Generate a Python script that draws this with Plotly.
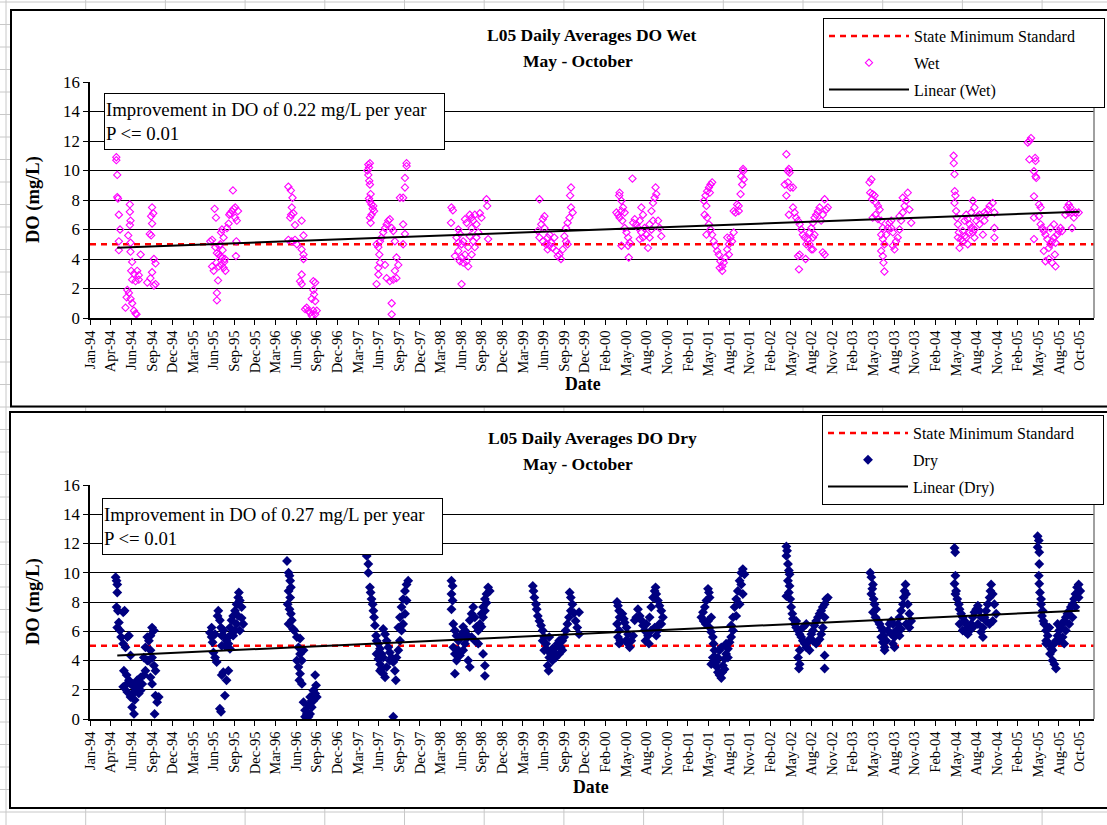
import pandas as pd
import plotly.graph_objects as go

FONT = "Liberation Serif"
W, H = 1107, 825

# ---------------- data (day-of-year, DO mg/L) ----------------
years = [1994, 1995, 1996, 1997, 1998, 1999, 2000, 2001, 2002, 2003, 2004, 2005]

wet_1994 = [(116,10.9),(116,10.7),(120,9.7),(120,8.2),(123,8.1),(127,7.0),(132,6.0),(127,5.2),(127,4.6),
            (175,7.7),(175,7.2),(178,6.6),(175,6.3),(168,5.6),(178,5.1),(178,4.5),(185,3.8),(181,3.2),(193,3.0),
            (185,2.6),(207,3.2),(214,2.9),(214,2.6),(200,2.5),(164,1.9),(171,1.7),(161,1.4),(156,0.7),(178,1.3),
            (185,1.0),(193,0.5),(200,0.3),(204,0.25),(222,4.3),
            (272,7.5),(277,7.1),(268,6.9),(272,6.4),(262,5.7),(268,5.6),(280,4.0),(287,3.7),(272,3.1),(265,2.7),
            (251,2.4),(287,2.3),(280,2.2)]
wet_1995 = [(180,7.4),(186,6.8),(169,5.3),(161,5.2),(183,4.8),(190,4.4),(198,4.3),(205,4.2),(188,3.75),(198,3.5),
            (212,4.1),(219,3.4),(227,3.2),(169,3.5),(176,3.2),(195,2.55),(190,1.7),(190,1.2),(208,5.8),(212,6.0),
            (219,5.45),(234,6.1),(241,6.4),(244,7.0),(248,7.1),(256,7.25),(263,7.4),(270,7.5),(260,8.65),(275,5.2),
            (273,4.2),(282,7.25),(270,6.8),(277,6.6),(200,4.9),(205,5.0),(215,4.6),(222,3.8),(225,4.0),(210,3.6)]
wet_1996 = [(137,8.9),(148,8.65),(155,8.15),(152,7.5),(149,7.0),(159,7.1),(145,6.8),(166,6.3),(195,6.6),(203,5.6),
            (137,5.3),(152,5.2),(166,5.3),(174,5.0),(195,4.65),(203,4.3),(203,4.0),(195,2.95),(188,2.5),(195,2.3),
            (246,2.5),(254,2.4),(246,1.9),(249,1.6),(239,1.3),(254,1.15),(217,0.7),(224,0.5),(232,0.35),(246,0.5),
            (261,0.5),(254,0.25),(239,0.15),(210,0.6)]
wet_1997 = [(120,10.4),(127,10.5),(123,10.2),(116,10.0),(120,9.7),(124,9.3),(127,9.05),(130,8.4),(123,8.1),(127,7.9),
            (134,7.7),(142,7.6),(139,7.4),(145,7.25),(134,7.0),(127,6.8),(130,6.45),
            (156,5.0),(164,4.8),(171,5.2),(178,5.45),(185,5.8),(193,6.1),(200,6.35),(207,6.6),(214,6.7),(222,6.1),
            (229,5.9),(236,5.2),(243,4.1),(251,3.6),(236,3.2),(243,2.7),(229,2.6),(168,4.3),(171,3.75),(164,3.4),
            (164,2.95),(156,2.3),(193,3.6),(200,2.7),(214,2.5),(222,1.0),(222,0.25),(258,8.15),(272,8.15),(280,8.85),
            (280,9.5),(287,10.3),(287,10.5),(272,6.35),(280,5.7),(272,5.0)]
wet_1998 = [(118,7.5),(124,7.3),(116,6.45),(148,6.0),(155,5.7),(140,5.45),(148,5.1),(162,5.0),(169,5.2),(133,4.2),
            (148,4.55),(155,3.85),(169,3.75),(162,4.1),(177,4.3),(184,3.85),(191,3.5),(162,2.3),(177,6.7),(184,6.45),
            (198,7.0),(206,6.8),(213,6.6),(220,7.0),(227,6.35),(206,6.1),(198,5.55),(213,5.2),(220,4.8),(227,5.45),
            (235,5.8),(206,4.3),(191,4.8),(271,8.05),(274,7.6),(278,5.35),(242,7.1),(249,6.8)]
wet_1999 = [(137,8.05),(159,6.9),(152,6.7),(145,6.35),(159,6.1),(130,5.9),(137,5.45),(152,5.2),(166,5.0),(181,4.9),
            (173,4.65),(195,4.75),(210,4.55),(224,4.3),(231,4.0),(217,4.2),(188,5.1),(202,5.45),(181,5.65),(173,5.45),
            (239,4.65),(246,5.55),(253,6.1),(260,6.45),(268,6.8),(275,7.5),(271,8.3),(275,8.85),(282,7.15),(253,5.2),
            (260,5.0)]
wet_2000 = [(122,8.5),(120,8.3),(130,7.95),(108,7.15),(115,7.0),(122,6.8),(130,7.25),(137,7.5),(144,7.15),(134,6.6),
            (144,6.1),(152,5.8),(159,5.45),(166,5.1),(159,4.9),(130,4.9),(162,4.1),(178,9.45),(181,6.45),(188,6.7),
            (195,6.35),(203,6.1),(210,6.6),(217,7.5),(224,7.0),(217,5.8),(210,5.35),(231,6.1),(239,5.65),(246,4.75),
            (253,5.45),(261,7.25),(268,7.8),(275,8.15),(279,8.85),(282,8.4),(290,6.6),(297,6.1),(304,5.55),(261,6.0),
            (268,6.6),(253,6.35),(224,5.45)]
wet_2001 = [(124,7.95),(131,8.3),(138,8.6),(146,8.85),(153,9.05),(160,9.2),(150,8.5),(135,7.6),(127,7.0),(138,6.8),
            (146,6.35),(153,6.0),(160,5.65),(167,5.2),(175,4.9),(182,4.55),(189,4.3),(196,3.85),(204,3.5),(211,3.75),
            (218,4.1),(226,4.65),(233,5.0),(240,5.45),(247,5.2),(254,5.8),(204,3.2),(193,3.4),(135,5.65),(262,7.15),
            (269,7.7),(276,7.6),(284,8.4),(291,9.05),(298,9.4),(295,9.95),(287,9.6),(295,10.1),(276,7.25),(254,7.25),
            (226,5.45),(233,4.3)]
wet_2002 = [(119,11.1),(126,9.95),(130,10.1),(133,9.85),(112,9.05),(126,9.2),(136,8.85),(119,8.3),(148,8.85),(130,7.0),
            (148,7.5),(155,7.15),(162,6.8),(170,6.6),(177,6.35),(184,6.0),(191,5.65),(199,5.45),(206,5.0),(213,5.35),
            (220,5.8),(228,6.1),(235,6.45),(242,6.8),(249,7.0),(257,7.25),(264,7.5),(286,8.05),(293,7.35),(300,7.5),
            (278,7.0),(271,6.6),(177,4.3),(170,4.2),(174,3.3),(203,4.0),(220,5.0),(228,4.65),(235,5.45),(242,5.65),
            (278,4.45),(286,4.3),(235,4.65)]
wet_2003 = [(125,9.4),(117,9.2),(120,8.5),(131,8.4),(139,8.3),(128,8.05),(146,7.8),(154,7.6),(161,7.35),(143,7.0),
            (131,6.8),(154,6.7),(168,6.6),(175,6.1),(168,5.65),(175,5.35),(182,5.0),(168,4.55),(175,4.2),(178,3.75),
            (182,3.15),(190,5.65),(197,6.1),(204,6.45),(212,6.1),(219,5.8),(219,4.9),(226,4.65),(233,5.2),(240,5.45),
            (248,6.0),(255,6.6),(262,7.15),(270,7.6),(277,7.95),(284,8.5),(291,7.35),(299,6.45),(262,8.15),(248,6.9),
            (212,6.6)]
wet_2004 = [(119,11.0),(120,10.5),(123,9.75),(124,8.6),(127,8.3),(123,7.8),(130,7.25),(133,6.8),(138,6.35),(142,5.8),
            (138,5.45),(145,4.75),(152,5.35),(159,5.9),(167,6.6),(174,7.0),(181,6.7),(189,6.35),(196,6.1),(203,5.8),
            (210,6.0),(218,6.6),(210,7.5),(203,7.95),(196,7.15),(225,6.9),(232,7.0),(247,5.65),(254,6.6),(261,7.0),
            (269,7.35),(276,7.6),(290,7.8),(297,7.15),(297,6.1),(297,5.45),(159,5.2),(174,5.45),(181,5.0),(167,5.55),
            (189,5.8),(210,5.45),(232,6.35),(254,7.15)]
wet_2005 = [(77,11.9),(91,12.2),(84,12.0),(84,10.75),(109,10.85),(111,10.65),(104,9.95),(111,9.6),(114,9.5),(104,8.25),
            (126,7.7),(133,7.5),(126,6.9),(104,6.8),(133,6.35),(140,6.1),(104,5.35),(147,5.9),(154,5.65),(162,5.35),
            (147,4.55),(154,3.85),(169,4.0),(169,4.75),(176,5.0),(183,5.2),(191,5.45),(198,5.1),(195,4.3),(198,3.5),
            (183,3.75),(205,5.65),(212,5.9),(220,6.1),(227,5.9),(191,6.35),(176,6.1),(241,7.0),(249,7.5),(256,7.7),
            (263,7.5),(270,7.15),(278,6.8),(270,6.1),(285,7.15),(299,7.15),(256,7.15)]

dry_1994 = [(113,9.7),(117,9.45),(120,9.2),(120,8.65),(117,7.65),(123,7.4),(146,7.3),(152,7.4),(120,6.25),(127,6.6),
            (132,6.05),(137,5.6),(146,5.15),(156,4.9),(164,5.6),(171,5.7),(178,4.35),(149,3.3),(161,3.0),(171,2.65),
            (178,2.4),(156,2.3),(146,2.2),(185,2.4),(193,2.2),(200,1.95),(207,2.65),(214,2.3),(222,2.85),(229,2.4),
            (190,1.75),(196,1.3),(185,0.8),(193,0.35),(178,1.5),(164,1.85),(214,1.75),(222,1.95),(236,3.0),(243,3.3),
            (251,4.0),(243,4.9),(251,5.6),(258,5.35),(265,5.7),(272,6.25),(280,6.05),(265,4.7),(272,4.2),(280,3.65),
            (287,3.3),(265,2.85),(272,2.4),(287,1.6),(294,1.15),(283,0.35),(301,1.5),(258,4.0),(236,4.2)]
dry_1995 = [(160,5.9),(167,5.6),(171,5.25),(175,4.55),(182,4.2),(189,3.9),(193,7.05),(196,7.4),(203,6.75),(208,6.25),
            (211,5.7),(218,6.05),(225,5.6),(232,5.35),(240,5.15),(247,4.8),(211,5.0),(225,5.0),(218,3.2),(211,3.0),
            (232,2.65),(240,3.3),(225,1.6),(203,0.7),(208,0.5),(240,5.6),(247,6.25),(254,6.75),(261,7.05),(269,7.4),
            (276,7.85),(283,8.3),(286,8.65),(290,8.1),(298,7.65),(283,7.05),(276,6.5),(269,6.05),(261,5.7),(298,6.9),
            (305,6.5),(290,6.05),(254,5.8),(182,5.8),(167,6.25)]
dry_1996 = [(131,10.8),(138,10.0),(142,9.8),(145,9.45),(148,9.0),(138,8.75),(145,8.3),(134,7.85),(142,7.5),(148,7.2),
            (152,6.75),(138,6.5),(157,6.15),(163,6.05),(174,5.6),(188,5.5),(181,4.9),(188,4.45),(196,4.0),(181,3.55),
            (188,3.1),(185,2.65),(196,2.4),(174,4.0),(203,4.7),(210,0.6),(217,0.35),(225,0.15),(232,0.35),(239,0.8),
            (246,1.25),(254,1.75),(258,2.3),(254,3.0),(239,1.25),(225,0.95),(232,1.5),(246,1.95),(261,1.5),(210,0.15),
            (203,1.15)]
dry_1997 = [(113,11.15),(120,10.6),(120,10.0),(127,9.0),(130,8.65),(134,8.2),(139,7.85),(142,7.4),(145,6.95),(149,6.4),
            (154,5.7),(156,5.35),(164,5.15),(171,4.8),(156,4.45),(164,4.1),(171,3.75),(178,3.45),(185,3.1),(193,2.85),
            (178,4.45),(185,6.15),(193,5.8),(200,5.35),(207,4.9),(214,4.55),(222,4.2),(229,3.9),(236,3.3),(240,2.65),
            (229,0.15),(243,4.2),(251,4.7),(258,5.35),(251,6.25),(258,6.95),(265,7.65),(272,8.2),(280,8.75),(287,9.2),
            (294,9.45),(280,7.2),(272,6.5),(287,8.1),(265,6.05),(185,4.2),(214,4.0),(200,3.55),(171,3.3)]
dry_1998 = [(118,9.45),(123,9.1),(118,8.55),(123,8.1),(118,7.5),(126,6.5),(133,6.05),(140,5.7),(148,5.35),(155,5.6),
            (162,5.8),(126,4.9),(133,4.45),(140,4.0),(133,3.1),(148,4.7),(155,4.35),(169,4.7),(177,5.15),(184,5.5),
            (191,4.0),(198,3.55),(169,6.3),(177,6.05),(184,5.8),(198,6.75),(206,7.2),(213,7.65),(220,6.95),(227,6.3),
            (235,6.05),(242,6.5),(249,7.2),(256,7.65),(264,8.2),(271,8.55),(278,9.0),(285,8.75),(271,7.95),(264,7.4),
            (256,6.95),(249,6.3),(256,4.45),(264,3.65),(264,2.95),(235,5.15),(220,5.35),(206,5.6)]
dry_1999 = [(108,9.1),(111,8.75),(115,8.3),(122,7.85),(125,7.5),(130,7.05),(137,6.7),(144,6.4),(151,6.05),(158,5.6),
            (166,5.15),(173,4.7),(180,4.2),(173,3.65),(177,3.3),(187,4.45),(194,4.8),(201,4.55),(208,4.9),(216,5.15),
            (223,5.35),(230,4.9),(237,5.35),(245,5.6),(252,6.05),(259,6.5),(266,6.95),(274,7.4),(281,7.85),(274,8.3),
            (269,8.65),(288,7.25),(295,6.7),(302,6.25),(310,5.8),(208,4.2),(194,4.0),(223,4.45),(237,4.7),(158,4.7),
            (151,5.35),(180,5.6),(310,7.3)]
dry_2000 = [(111,8.0),(115,7.75),(120,7.4),(122,6.95),(111,6.5),(120,6.05),(115,5.6),(120,5.15),(125,5.35),(134,7.2),
            (140,6.85),(144,6.6),(152,6.25),(159,5.8),(164,5.25),(166,4.9),(159,5.15),(173,5.35),(181,5.7),(188,6.75),
            (195,6.95),(202,7.5),(210,7.05),(217,6.75),(224,6.4),(231,6.05),(239,6.5),(246,5.7),(250,5.15),(253,6.95),
            (260,7.65),(268,8.3),(275,8.75),(279,9.0),(282,8.55),(289,8.1),(296,7.75),(304,7.4),(311,6.95),(304,6.5),
            (289,6.05),(275,6.25),(260,6.05),(282,5.7),(296,6.5),(235,5.35),(149,5.35)]
dry_2001 = [(142,8.9),(146,8.65),(149,8.3),(135,8.1),(128,7.65),(120,7.3),(113,6.95),(123,6.7),(132,6.5),(142,6.7),
            (156,6.95),(149,6.25),(156,5.95),(163,5.6),(166,5.15),(170,4.7),(175,4.2),(178,3.9),(181,3.55),(185,3.2),
            (192,3.0),(200,2.8),(204,3.2),(207,3.65),(214,4.1),(221,4.45),(229,4.8),(236,5.25),(243,5.6),(163,4.2),
            (156,3.75),(185,4.2),(192,4.7),(200,4.9),(221,5.15),(243,6.4),(251,6.95),(258,7.65),(265,8.2),(272,8.75),
            (280,9.45),(287,10.0),(294,10.25),(301,9.9),(287,9.2),(294,8.55),(280,7.85),(265,7.05),(251,6.05),(229,4.2),
            (214,3.4)]
dry_2002 = [(119,11.8),(122,11.5),(119,11.15),(126,10.6),(130,10.15),(133,9.9),(126,9.45),(133,9.1),(130,8.65),(119,8.4),
            (136,8.2),(140,7.65),(145,7.2),(148,6.85),(155,6.5),(162,6.25),(170,6.05),(177,5.8),(184,5.6),(191,5.35),
            (199,5.15),(206,4.9),(177,4.7),(170,4.2),(177,3.75),(174,3.45),(213,5.25),(220,5.45),(228,5.8),(235,6.05),
            (242,6.4),(249,6.7),(257,6.95),(264,7.2),(271,7.4),(278,7.65),(286,7.85),(293,8.2),(300,8.3),(286,6.95),
            (278,6.25),(271,5.8),(264,5.45),(249,5.15),(235,5.35),(220,4.7),(286,4.35),(286,3.45),(191,6.25),(206,6.5),
            (162,6.7)]
dry_2003 = [(120,10.0),(125,9.7),(132,9.2),(129,8.9),(125,8.55),(135,8.2),(139,7.85),(146,7.5),(132,7.3),(143,6.95),
            (154,6.7),(161,6.5),(168,6.25),(175,6.05),(168,5.6),(175,5.25),(183,4.9),(183,4.7),(178,5.7),(190,5.35),
            (197,6.05),(204,6.5),(212,6.7),(219,6.5),(226,5.6),(226,4.9),(219,5.15),(233,6.05),(241,6.5),(248,6.95),
            (255,7.4),(263,7.85),(266,8.3),(270,8.75),(274,9.2),(277,8.55),(284,7.85),(291,7.2),(299,6.7),(291,6.25),
            (277,6.5),(255,6.15),(248,5.7),(212,5.8)]
dry_2004 = [(123,11.7),(126,11.4),(127,9.8),(123,9.25),(130,8.75),(127,8.55),(135,8.2),(142,7.85),(145,7.5),(152,7.2),
            (159,6.95),(167,6.7),(174,6.5),(181,6.25),(189,6.05),(181,5.8),(196,6.5),(203,6.95),(210,7.3),(218,7.5),
            (225,7.75),(232,7.4),(239,6.95),(247,6.25),(247,5.6),(239,5.95),(254,6.95),(261,7.4),(268,7.85),(276,8.3),
            (280,8.75),(283,9.2),(290,8.55),(297,7.85),(305,7.2),(290,6.7),(276,6.5),(261,6.7),(145,6.5),(159,6.05),
            (174,5.95),(203,6.25),(225,6.5)]
dry_2005 = [(120,12.5),(125,12.2),(120,11.75),(127,11.4),(127,10.6),(125,9.8),(127,9.25),(130,8.65),(135,8.2),(135,7.85),
            (142,7.4),(139,7.05),(145,6.7),(149,6.5),(157,6.05),(164,5.7),(157,5.35),(171,5.15),(178,4.8),(174,4.45),
            (185,4.0),(200,3.45),(193,3.75),(185,4.7),(193,5.15),(200,5.35),(207,5.7),(214,6.05),(221,6.25),(229,6.5),
            (236,6.7),(243,6.95),(250,7.2),(258,7.4),(265,7.65),(272,7.85),(279,8.2),(285,8.55),(292,9.0),(299,9.2),
            (306,8.75),(299,8.3),(285,7.65),(272,6.95),(258,6.5),(243,6.05),(229,5.6),(214,5.35),(236,5.15),(157,5.15),
            (171,6.25),(207,6.5)]

wet_seasons = [wet_1994, wet_1995, wet_1996, wet_1997, wet_1998, wet_1999,
               wet_2000, wet_2001, wet_2002, wet_2003, wet_2004, wet_2005]
dry_seasons = [dry_1994, dry_1995, dry_1996, dry_1997, dry_1998, dry_1999,
               dry_2000, dry_2001, dry_2002, dry_2003, dry_2004, dry_2005]

# trend lines (end points)
wet_trend_dates = ["1994-04-30", "2005-10-30"]
wet_trend_do = [4.77, 7.21]
dry_trend_dates = ["1994-04-30", "2005-10-30"]
dry_trend_do = [4.34, 7.41]

state_minimum = 5.0
x_range = ["1994-01-01", "2006-01-01"]
y_ticks = [0, 2, 4, 6, 8, 10, 12, 14, 16]
tick_dates = pd.date_range("1994-01-01", periods=49, freq="90D")
tick_text = [d.strftime("%b-%y") for d in tick_dates]

wet_note = "Improvement in DO of 0.22 mg/L per year<br>P &lt;= 0.01"
dry_note = "Improvement in DO of 0.27 mg/L per year<br>P &lt;= 0.01"
standard_label = "State Minimum Standard" + "&nbsp;" * 6


def to_xy(seasons):
    xs, ys = [], []
    for yr, pts in zip(years, seasons):
        base = pd.Timestamp(yr, 1, 1)
        for doy, v in pts:
            xs.append(base + pd.Timedelta(days=doy - 1))
            ys.append(v)
    return xs, ys


wet_x, wet_y = to_xy(wet_seasons)
dry_x, dry_y = to_xy(dry_seasons)

fig = go.Figure()

# ---- top (wet) ----
fig.add_trace(go.Scatter(x=x_range, y=[state_minimum] * 2, mode="lines", name=standard_label,
                         line=dict(color="#FF0000", width=2.5, dash="6px,5px"),
                         xaxis="x", yaxis="y", legend="legend", legendgroup="s1"))
fig.add_trace(go.Scatter(x=wet_x, y=wet_y, mode="markers", name="Wet",
                         marker=dict(symbol="diamond-open", size=5.6, color="#FF00FF", line=dict(width=1.1, color="#FF00FF")),
                         xaxis="x", yaxis="y", legend="legend", legendgroup="w1"))
fig.add_trace(go.Scatter(x=wet_trend_dates, y=wet_trend_do, mode="lines", name="Linear (Wet)",
                         line=dict(color="black", width=2),
                         xaxis="x", yaxis="y", legend="legend", legendgroup="t1"))

# ---- bottom (dry) ----
fig.add_trace(go.Scatter(x=x_range, y=[state_minimum] * 2, mode="lines", name=standard_label,
                         line=dict(color="#FF0000", width=2.5, dash="6px,5px"),
                         xaxis="x2", yaxis="y2", legend="legend2", legendgroup="s2"))
fig.add_trace(go.Scatter(x=dry_x, y=dry_y, mode="markers", name="Dry",
                         marker=dict(symbol="diamond", size=7.6, color="#000080", line=dict(width=0)),
                         xaxis="x2", yaxis="y2", legend="legend2", legendgroup="d2"))
fig.add_trace(go.Scatter(x=dry_trend_dates, y=dry_trend_do, mode="lines", name="Linear (Dry)",
                         line=dict(color="black", width=2),
                         xaxis="x2", yaxis="y2", legend="legend2", legendgroup="t2"))


def px_x(v):
    return v / W


def px_y(v):
    return 1 - v / H


PLOT_L, PLOT_R = 90, 1094
TOP_T, TOP_B = 82, 318
BOT_T, BOT_B = 485, 719

xaxis_common = dict(type="date", range=x_range, tickmode="array", tickvals=list(tick_dates), ticktext=tick_text,
                    tickangle=-90, ticks="outside", ticklen=5, tickcolor="black", showline=True, linecolor="black",
                    linewidth=1.5, showgrid=False, zeroline=False, automargin=False,
                    tickfont=dict(family=FONT, size=14.5, color="black"), fixedrange=True)
yaxis_common = dict(range=[0, 16], tickmode="array", tickvals=y_ticks, ticks="outside", ticklen=5,
                    tickcolor="black", showline=True, linecolor="black", linewidth=1.5, showgrid=True,
                    gridcolor="black", gridwidth=1, zeroline=False, automargin=False,
                    tickfont=dict(family=FONT, size=16.8, color="black"), fixedrange=True)

shapes = []
# spreadsheet cell grid in the background
for k in range(15):
    xv = 6 + 79.7 * k
    shapes.append(dict(type="line", xref="paper", yref="paper", x0=px_x(xv), x1=px_x(xv), y0=0, y1=1,
                       line=dict(color="#c8c8c8", width=1), layer="below"))
for k in range(38):
    yv = 2 + 22.5 * k
    shapes.append(dict(type="line", xref="paper", yref="paper", x0=0, x1=1, y0=px_y(yv), y1=px_y(yv),
                       line=dict(color="#c8c8c8", width=1), layer="below"))
# chart areas
for (x0, y0, y1) in [(11, 10, 406.5), (10, 412, 808)]:
    shapes.append(dict(type="rect", xref="paper", yref="paper", x0=px_x(x0), x1=px_x(1125), y0=px_y(y1), y1=px_y(y0),
                       fillcolor="white", line=dict(color="black", width=2), layer="below"))
# plot-area right edges (grey)
for ya, xa in [("y", "x"), ("y2", "x2")]:
    shapes.append(dict(type="line", xref=f"{xa} domain", yref=f"{ya} domain", x0=1, x1=1, y0=0, y1=1,
                       line=dict(color="#808080", width=1.5)))

title_font = dict(family=FONT, size=17.5, color="black")
annotations = []
for yc, name in [(35, "L05 Daily Averages DO Wet"), (438, "L05 Daily Averages DO Dry")]:
    annotations.append(dict(text=f"<b>{name}</b>", x=px_x(592), y=px_y(yc), xref="paper", yref="paper",
                            showarrow=False, font=title_font, xanchor="center", yanchor="middle"))
    annotations.append(dict(text="<b>May - October</b>", x=px_x(578), y=px_y(yc + 26), xref="paper", yref="paper",
                            showarrow=False, font=title_font, xanchor="center", yanchor="middle"))
for yc in [200, 602]:
    annotations.append(dict(text="<b>DO (mg/L)</b>", x=px_x(33), y=px_y(yc), xref="paper", yref="paper",
                            showarrow=False, textangle=-90, font=dict(family=FONT, size=18.5, color="black"),
                            xanchor="center", yanchor="middle"))
for xc, yc in [(583, 384), (591, 787)]:
    annotations.append(dict(text="<b>Date</b>", x=px_x(xc), y=px_y(yc), xref="paper", yref="paper",
                            showarrow=False, font=dict(family=FONT, size=17.8, color="black"),
                            xanchor="center", yanchor="middle"))
for (x0, y0, note) in [(104, 93, wet_note), (102, 498, dry_note)]:
    annotations.append(dict(text=note, x=px_x(x0), y=px_y(y0), xref="paper", yref="paper", showarrow=False,
                            xanchor="left", yanchor="top", align="left", valign="middle", width=337, height=53,
                            bgcolor="white", bordercolor="black", borderwidth=1, borderpad=1,
                            font=dict(family=FONT, size=18.8, color="black")))

legend_common = dict(bgcolor="white", bordercolor="black", borderwidth=1, xanchor="left", yanchor="top",
                     font=dict(family=FONT, size=16, color="black"), traceorder="grouped", tracegroupgap=3,
                     itemwidth=80)

fig.update_layout(
    width=W, height=H, margin=dict(l=0, r=0, t=0, b=0),
    paper_bgcolor="white", plot_bgcolor="white",
    xaxis=dict(domain=[px_x(PLOT_L), px_x(PLOT_R)], anchor="y", **xaxis_common),
    yaxis=dict(domain=[px_y(TOP_B), px_y(TOP_T)], anchor="x", **yaxis_common),
    xaxis2=dict(domain=[px_x(PLOT_L), px_x(PLOT_R)], anchor="y2", **xaxis_common),
    yaxis2=dict(domain=[px_y(BOT_B), px_y(BOT_T)], anchor="x2", **yaxis_common),
    legend=dict(x=px_x(823), y=px_y(18), **legend_common),
    legend2=dict(x=px_x(822), y=px_y(415), **legend_common),
    shapes=shapes, annotations=annotations, showlegend=True, hovermode=False,
)

fig.write_html("out.html")
